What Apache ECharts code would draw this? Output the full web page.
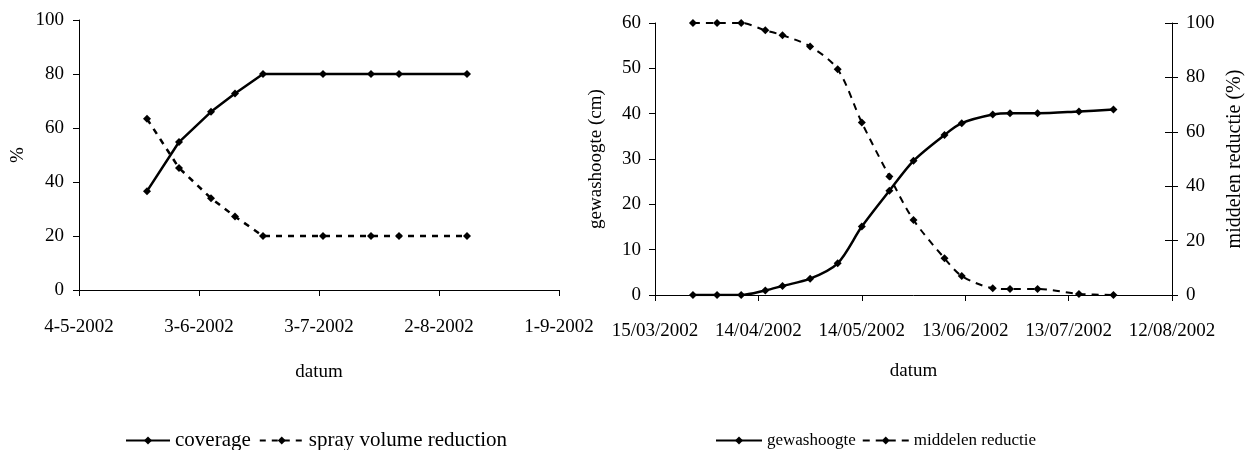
<!DOCTYPE html>
<html>
<head>
<meta charset="utf-8">
<script src="https://cdn.jsdelivr.net/npm/echarts@6/dist/echarts.min.js"></script>
<style>
  html, body { margin: 0; padding: 0; background: #fff; }
  #chart { width: 1250px; height: 450px; }
</style>
</head>
<body>
<div id="chart"></div>
<script>
// links: bedekking en reductie spuitvolume
var coverageDates = ['2002-05-21','2002-05-29','2002-06-06','2002-06-12','2002-06-19','2002-07-04','2002-07-16','2002-07-23','2002-08-09'];
var coverage = [36.6, 54.8, 66, 72.8, 80, 80, 80, 80, 80];
var sprayReduction = [63.4, 45.2, 34, 27.2, 20, 20, 20, 20, 20];
var leftStart = '2002-05-04';   // 4-5-2002, ticks elke 30 dagen

// rechts: gewashoogte en middelen reductie
var cropDates = ['2002-03-26','2002-04-02','2002-04-09','2002-04-16','2002-04-21','2002-04-29','2002-05-07','2002-05-14',
  '2002-05-22','2002-05-29','2002-06-07','2002-06-12','2002-06-21','2002-06-26','2002-07-04','2002-07-16','2002-07-26'];
var cropHeight = [0, 0, 0, 1, 2, 3.6, 7, 15.1, 23, 29.6, 35.3, 37.9, 39.8, 40.1, 40.1, 40.5, 40.9];
var agentReduction = [100, 100, 100, 97.3, 95.5, 91.4, 83, 63.4, 43.6, 27.6, 13.5, 7, 2.5, 2.2, 2.2, 0.4, 0];
var rightStart = '2002-03-15';  // 15/03/2002

var DAY = 86400000;
var FONT = "'Liberation Serif', 'DejaVu Serif', serif";

function dayOf(d, start) {
  return (Date.parse(d) - Date.parse(start)) / DAY;
}
function toPairs(dates, vals, start) {
  return dates.map(function (d, i) { return [dayOf(d, start), vals[i]]; });
}
function pad(n) { return n < 10 ? '0' + n : '' + n; }
function fmtLeft(v) {
  var d = new Date(Date.parse(leftStart) + v * DAY);
  return d.getUTCDate() + '-' + (d.getUTCMonth() + 1) + '-' + d.getUTCFullYear();
}
function fmtRight(v) {
  var d = new Date(Date.parse(rightStart) + v * DAY);
  return pad(d.getUTCDate()) + '/' + pad(d.getUTCMonth() + 1) + '/' + d.getUTCFullYear();
}

var axisLine = { show: true, lineStyle: { color: '#000', width: 1 } };
var tick = { show: true, length: 6, lineStyle: { color: '#000' } };
function txt(size, extra) {
  return Object.assign({ color: '#000', fontFamily: FONT, fontSize: size }, extra || {});
}

var myChart = echarts.init(document.getElementById('chart'));
var option = {
  animation: false,
  backgroundColor: '#fff',
  textStyle: { fontFamily: FONT, color: '#000' },
  grid: [
    { left: 79, top: 20, width: 480, height: 270 },
    { left: 655, top: 23, width: 517, height: 272 }
  ],
  legend: [
    {
      left: 120, top: 425, itemWidth: 44, itemHeight: 10, itemGap: 8,
      textStyle: txt(21),
      data: ['coverage', 'spray volume reduction']
    },
    {
      left: 710, top: 427, itemWidth: 46, itemHeight: 10, itemGap: 6,
      textStyle: txt(17),
      data: ['gewashoogte', 'middelen reductie']
    }
  ],
  xAxis: [
    {
      gridIndex: 0, type: 'value', min: 0, max: 120, interval: 30,
      axisLine: axisLine, axisTick: tick, splitLine: { show: false },
      axisLabel: txt(19, { margin: 28, formatter: fmtLeft }),
      name: 'datum', nameLocation: 'middle', nameGap: 73,
      nameTextStyle: txt(19)
    },
    {
      gridIndex: 1, type: 'value', min: 0, max: 150, interval: 30,
      axisLine: axisLine, axisTick: tick, splitLine: { show: false },
      axisLabel: txt(19, { margin: 27, formatter: fmtRight }),
      name: 'datum', nameLocation: 'middle', nameGap: 67,
      nameTextStyle: txt(19)
    }
  ],
  yAxis: [
    {
      gridIndex: 0, type: 'value', min: 0, max: 100, interval: 20,
      axisLine: axisLine, axisTick: tick, splitLine: { show: false },
      axisLabel: txt(19, { margin: 15 }),
      name: '%', nameLocation: 'middle', nameGap: 51,
      nameTextStyle: txt(19)
    },
    {
      gridIndex: 1, type: 'value', min: 0, max: 60, interval: 10,
      axisLine: axisLine, axisTick: tick, splitLine: { show: false },
      axisLabel: txt(19, { margin: 14 }),
      name: 'gewashoogte (cm)', nameLocation: 'middle', nameGap: 49,
      nameTextStyle: txt(19)
    },
    {
      gridIndex: 1, type: 'value', position: 'right', min: 0, max: 100, interval: 20,
      axisLine: axisLine, axisTick: tick, splitLine: { show: false },
      axisLabel: txt(19, { margin: 14 }),
      name: 'middelen reductie (%)', nameLocation: 'middle', nameGap: 53,
      nameTextStyle: txt(20)
    },
    {
      // alleen de binnenste tickjes van de rechter as
      gridIndex: 1, type: 'value', position: 'right', min: 0, max: 100, interval: 20,
      axisLine: { show: false }, axisLabel: { show: false }, splitLine: { show: false },
      axisTick: { show: true, inside: true, length: 7, lineStyle: { color: '#000' } }
    }
  ],
  series: [
    {
      name: 'coverage', type: 'line', xAxisIndex: 0, yAxisIndex: 0,
      data: toPairs(coverageDates, coverage, leftStart),
      symbol: 'diamond', symbolSize: 8,
      itemStyle: { color: '#000' },
      lineStyle: { color: '#000', width: 2.5, type: 'solid' }
    },
    {
      name: 'spray volume reduction', type: 'line', xAxisIndex: 0, yAxisIndex: 0,
      data: toPairs(coverageDates, sprayReduction, leftStart),
      symbol: 'diamond', symbolSize: 8,
      itemStyle: { color: '#000' },
      lineStyle: { color: '#000', width: 2.5, type: [6, 6] }
    },
    {
      name: 'gewashoogte', type: 'line', xAxisIndex: 1, yAxisIndex: 1,
      data: toPairs(cropDates, cropHeight, rightStart),
      smooth: 0.3,
      symbol: 'diamond', symbolSize: 8,
      itemStyle: { color: '#000' },
      lineStyle: { color: '#000', width: 2.5, type: 'solid' }
    },
    {
      name: 'middelen reductie', type: 'line', xAxisIndex: 1, yAxisIndex: 2,
      data: toPairs(cropDates, agentReduction, rightStart),
      smooth: 0.3,
      symbol: 'diamond', symbolSize: 8,
      itemStyle: { color: '#000' },
      lineStyle: { color: '#000', width: 2, type: [7, 6] }
    }
  ]
};
myChart.setOption(option);
</script>
</body>
</html>
